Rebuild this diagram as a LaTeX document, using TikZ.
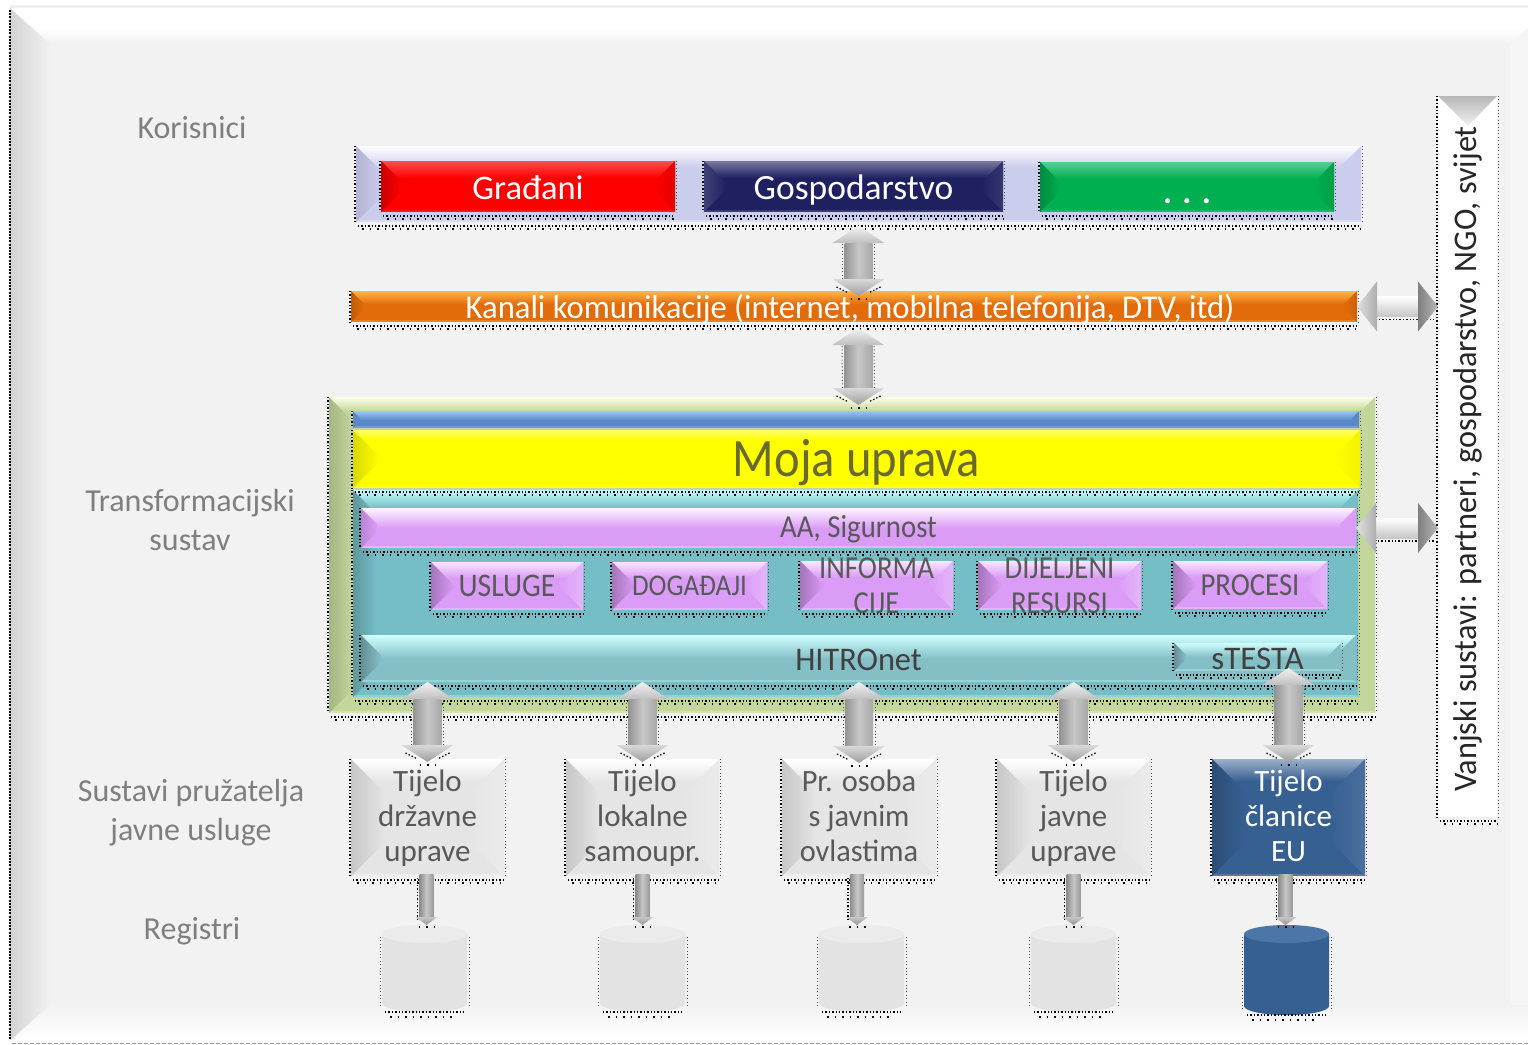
\documentclass[tikz,border=0pt]{standalone}
\usepackage{fontspec}
\setmainfont{Carlito}
\newfontfamily\cndfont[FakeStretch=0.9]{Carlito}
\newfontfamily\cnxfont[FakeStretch=0.98]{Carlito}
\usetikzlibrary{fit,calc,arrows.meta}
\definecolor{bgpanel}{HTML}{F2F2F2}
\definecolor{labgray}{HTML}{7F7F7F}
\definecolor{txtdark}{HTML}{595959}
\definecolor{cred}{HTML}{FF0000}
\definecolor{cnavy}{HTML}{1F2060}
\definecolor{cgreen}{HTML}{00B050}
\definecolor{corange}{HTML}{E36C0A}
\definecolor{ctoporange}{HTML}{FFB54D}
\definecolor{cgrn}{HTML}{C3D69B}
\definecolor{cpale}{HTML}{FFFFE8}
\definecolor{cteal}{HTML}{76BEC5}
\definecolor{cpalecy}{HTML}{BFFFFF}
\definecolor{cblue}{HTML}{5A8AC6}
\definecolor{ctopblue}{HTML}{9CC8F5}
\definecolor{cyel}{HTML}{FFFF00}
\definecolor{ctopyel}{HTML}{FFFF66}
\definecolor{colive}{HTML}{6A6A30}
\definecolor{cpink}{HTML}{DB9CF8}
\definecolor{chit}{HTML}{84BFC6}
\definecolor{chittop}{HTML}{CFFFFF}
\definecolor{cdblue}{HTML}{376092}
\definecolor{clav}{HTML}{CBCDEC}
\definecolor{clavd}{HTML}{B4B4D4}
\tikzset{
  x=1pt,y=-1pt,
  anchorbox/.style={inner sep=0pt,outer sep=0pt},
  dotline/.style={black,line width=1.3pt,dash pattern=on 1.4pt off 2pt},
  dotsparse/.style={black,line width=1.5pt,dash pattern=on 1.5pt off 6pt},
  dotlinelight/.style={black!70,line width=1pt,dash pattern=on 1pt off 2.4pt},
  boxtext/.style={align=center,inner sep=0pt,text=txtdark},
  sidelabel/.style={align=center,inner sep=0pt,text=labgray,font=\fontsize{32}{39}\selectfont},
}
\newcommand{\bevelset}[4]{\colorlet{bvbase}{#1}\colorlet{bvtop}{#2}\colorlet{bvleft}{#3}\colorlet{bvright}{#4}}
% name x1 y1 x2 y2 strip wedge textstyle text
\newcommand{\bevel}[9]{%
  \pgfmathsetmacro{\ins}{min(#7,(#5-#3)/2)}
  \fill[bvbase] (#2,#3) rectangle (#4,#5);
  \shade[top color=bvtop,bottom color=bvbase] (#2,#3) rectangle (#4,#3+#6);
  \fill[bvbase!70!bvtop] (#2,#5-2) rectangle (#4,#5);
  \shade[left color=bvleft,right color=bvbase] (#2,#3) -- (#2+#7,#3+\ins) -- (#2+#7,#5-\ins) -- (#2,#5) -- cycle;
  \shade[right color=bvright,left color=bvbase] (#4,#3) -- (#4-#7,#3+\ins) -- (#4-#7,#5-\ins) -- (#4,#5) -- cycle;
  \draw[dotline] (#2+2,#5+4) -- (#4,#5+4);
  \draw[dotsparse] (#2+6,#5+7) -- (#4,#5+7);
  \draw[dotline] (#2-1,#3) -- (#2-1,#5);
  \draw[dotlinelight] (#4+1,#3) -- (#4+1,#5);
  \coordinate (#1-a) at (#2,#3);
  \coordinate (#1-b) at (#4,#5);
  \node[anchorbox,fit=(#1-a)(#1-b)] (#1) {};
  \node[boxtext,#8] (#1-t) at (#1.center) {#9};
}
\newcommand{\cyl}[7]{%
  \pgfmathsetmacro{\cx}{(#2+#3)/2}
  \pgfmathsetmacro{\rx}{(#3-#2)/2}
  \fill[#6] (#2,#4+9) -- (#2,#5-9) arc[start angle=180,end angle=360,x radius=\rx,y radius=-9] -- (#3,#4+9) -- cycle;
  \fill[#7] (\cx,#4+9) ellipse[x radius=\rx,y radius=9];
  \draw[dotlinelight] (#2-2,#4+12) -- (#2-2,#5-6);
  \draw[dotlinelight] (#3+2,#4+12) -- (#3+2,#5-6);
  \draw[dotline] (#2+3,#5) -- (#3-3,#5);
  \draw[dotsparse] (#2+8,#5+5) -- (#3-10,#5+5);
  \coordinate (#1-a) at (#2,#4);
  \coordinate (#1-b) at (#3,#5);
  \node[anchorbox,fit=(#1-a)(#1-b)] (#1) {};
}
\newcommand{\bigpair}[2]{%
  \path let \p1=#1,\p2=#2 in coordinate (aA) at (\x1,\y1) coordinate (aB) at (\x2,\y2);
  \draw[dotlinelight] ($(aA)+(16,18)$) -- ($(aB)+(16,-16)$);
  \draw[dotlinelight] ($(aA)+(-16,18)$) -- ($(aB)+(-16,-16)$);
  \shade[left color=black!42,right color=black!34,middle color=black!22] ($(aA)+(-14,17)$) rectangle ($(aB)+(14,-17)$);
  \shade[top color=black!5,bottom color=black!25] (aA) -- ($(aA)+(26,17)$) -- ($(aA)+(-26,17)$) -- cycle;
  \shade[top color=black!15,bottom color=black!38] (aB) -- ($(aB)+(26,-17)$) -- ($(aB)+(-26,-17)$) -- cycle;
  \draw[dotline] ($(aB)+(-22,-9)$) -- ($(aB)+(-10,-3)$);
  \draw[dotline] ($(aB)+(22,-9)$) -- ($(aB)+(10,-3)$);
  \draw[dotsparse] ($(aB)+(-8,3)$) -- ($(aB)+(10,3)$);
}
\newcommand{\smallpair}[2]{%
  \path let \p1=#1,\p2=#2 in coordinate (aA) at (\x1,\y1) coordinate (aB) at (\x2,\y2);
  \draw[dotline] ($(aA)+(-9,2)$) -- ($(aB)+(-9,-6)$);
  \shade[left color=black!45,right color=black!40,middle color=black!22] ($(aA)+(-7,-2)$) rectangle ($(aB)+(7,-8)$);
  \shade[top color=black!22,bottom color=black!42] (aB) -- ($(aB)+(11,-8)$) -- ($(aB)+(-11,-8)$) -- cycle;
  \draw[dotsparse] ($(aB)+(-8,2)$) -- ($(aB)+(9,2)$);
}
\newcommand{\sidepair}[2]{%
  \path let \p1=#1,\p2=#2 in coordinate (aA) at (\x1,\y1) coordinate (aB) at (\x2,\y2);
  \draw[dotline] ($(aA)+(22,13)$) -- ($(aB)+(-4,13)$);
  \shade[top color=white,bottom color=black!22] ($(aA)+(20,-10)$) rectangle ($(aB)+(-20,10)$);
  \shade[left color=black!12,right color=black!32] (aA) -- ($(aA)+(20,-25)$) -- ($(aA)+(20,25)$) -- cycle;
  \shade[left color=black!50,right color=black!28] (aB) -- ($(aB)+(-20,-25)$) -- ($(aB)+(-20,25)$) -- cycle;
}
\begin{document}
\begin{tikzpicture}
\useasboundingbox (0,0) rectangle (1528,1044);
\fill[white] (0,0) rectangle (1528,1044);
% background panel
\fill[black!6] (10,5) rectangle (1528,8);
\fill[bgpanel] (10,8) rectangle (1528,1040);
\fill[black!4] (1510,44) -- (1528,26) -- (1528,1040) -- (1510,1040) -- cycle;
\fill[white] (10,8) rectangle (1528,28);
\shade[top color=white,bottom color=bgpanel] (10,28) -- (1528,28) -- (1510,44) -- (50,44) -- cycle;
\shade[top color=bgpanel,bottom color=white] (50,1005) -- (1528,1005) -- (1528,1040) -- (12,1040) -- cycle;
\shade[left color=black!17,right color=bgpanel] (10,8) -- (50,44) -- (50,1005) -- (10,1040) -- cycle;
\draw[black,line width=2.6pt,dash pattern=on 2pt off 1.2pt] (10,10) -- (10,1040);
\draw[black!40,line width=1pt,dash pattern=on 4pt off 2pt] (12,1043) -- (1528,1043);
% side labels
\node[sidelabel] (lkor) at (192,128) {Korisnici};
\node[sidelabel] (ltra) at (190,520) {Transformacijski\\sustav};
\node[sidelabel,yshift=-1.5pt] (lsus) at (191,811) {Sustavi pružatelja\\javne usluge};
\node[sidelabel] (lreg) at (192,931) {Registri};
% users
\bevelset{clav}{white}{clavd}{clav}
\bevel{users}{356}{146}{1361}{222}{22}{26}{}{}
\bevelset{cred}{cred!70!white}{cred!80!black}{cred!90!black}
\bevel{grad}{381}{161}{675}{212}{17}{22}{text=white,yshift=-1pt,font=\fontsize{34.5}{40}\selectfont}{Građani}
\bevelset{cnavy}{cnavy!60!white}{cnavy!85!white}{cnavy!90!white}
\bevel{gosp}{704}{161}{1003}{212}{17}{22}{text=white,yshift=-4pt,font=\fontsize{35.5}{40}\selectfont}{Gospodarstvo}
\bevelset{cgreen}{cgreen!65!white}{cgreen!80!black}{cgreen!90!black}
\bevel{dots}{1040}{162}{1334}{212}{17}{22}{text=white,yshift=-14pt,font=\fontsize{34}{46}\selectfont\bfseries}{. . .}
% channels
\bevelset{corange}{ctoporange}{corange!85!black}{corange!90!black}
\bevel{kan}{351}{291}{1357}{322}{13}{14}{text=white,yshift=-3pt,xshift=-4pt,font=\cnxfont\fontsize{33.3}{40}\selectfont}{Kanali komunikacije (internet, mobilna telefonija, DTV, itd)}
% transformation system
\bevelset{cgrn}{cpale}{cgrn!85!black}{cgrn}
\bevel{trans}{329}{397}{1375}{713}{14}{24}{}{}
\bevelset{cteal}{cpalecy}{cteal!80!black}{cteal}
\bevel{inner}{353}{490}{1358}{697}{18}{24}{}{}
\bevelset{cblue}{ctopblue}{cblue}{cblue}
\bevel{bar}{353}{411}{1359}{428}{9}{7}{}{}
\bevelset{cyel}{ctopyel}{cyel!85!black}{cyel!95!black}
\bevel{moja}{353}{430}{1360}{488}{10}{26}{text=colive,yshift=-4pt,font=\cndfont\fontsize{54}{60}\selectfont}{Moja uprava}
\bevelset{cpink}{white!90!cpink}{cpink!85!black}{cpink}
\bevel{aa}{361}{508}{1356}{548}{20}{16}{yshift=-1pt,font=\cndfont\fontsize{32}{38}\selectfont}{AA, Sigurnost}
\bevelset{cpink}{white!75!cpink}{cpink!75!black}{white!25!cpink}
\bevel{usl}{431}{562}{583}{610}{16}{24}{font=\cndfont\fontsize{33}{38}\selectfont}{USLUGE}
\bevel{dog}{612}{562}{767}{610}{16}{24}{font=\cndfont\fontsize{30}{38}\selectfont}{DOGAĐAJI}
\bevel{inf}{800}{561}{953}{610}{16}{24}{font=\cndfont\fontsize{32}{35}\selectfont}{INFORMA\\CIJE}
\bevel{dij}{978}{561}{1141}{610}{16}{24}{font=\cndfont\fontsize{32}{35}\selectfont}{DIJELJENI\\RESURSI}
\bevel{pro}{1173}{561}{1327}{609}{16}{24}{font=\cndfont\fontsize{32}{38}\selectfont}{PROCESI}
\bevelset{chit}{chittop}{chit!75!black}{chit}
\bevel{hit}{361}{635}{1356}{682}{24}{20}{text=black!75,yshift=-1pt,font=\cnxfont\fontsize{33}{38}\selectfont}{HITROnet}
\bevel{ste}{1174}{643}{1341}{671}{14}{12}{text=black!75,yshift=-2pt,font=\fontsize{33}{38}\selectfont}{sTESTA}
% external systems
\bevelset{white}{white}{white}{white}
\bevel{ext}{1438}{96}{1497}{817}{0}{1}{}{}
\shade[top color=black!28,bottom color=black!6] (1438,96) -- (1497,96) -- (1468,126) -- cycle;
\node[inner sep=0pt,rotate=90,text=black!85,font=\cnxfont\fontsize{33}{38}\selectfont] (ext-t2) at (1468,459) {Vanjski sustavi: partneri, gospodarstvo, NGO, svijet};
% providers
\bevelset{black!10}{white}{black!22}{black!8}
\bevel{b1}{351}{759}{504}{876}{22}{34}{yshift=-1pt,font=\fontsize{31}{35}\selectfont}{Tijelo\\državne\\uprave}
\bevel{b2}{566}{759}{719}{876}{22}{34}{yshift=-1pt,font=\fontsize{31}{35}\selectfont}{Tijelo\\lokalne\\samoupr.}
\bevel{b3}{782}{759}{936}{876}{22}{34}{yshift=2pt,font=\cnxfont\fontsize{31}{35}\selectfont}{Pr. osoba\\s javnim\\ovlastima}
\bevel{b4}{997}{759}{1150}{876}{22}{34}{yshift=-1pt,font=\fontsize{31}{35}\selectfont}{Tijelo\\javne\\uprave}
\bevelset{cdblue}{cdblue!50!white}{cdblue!80!black}{cdblue!90!white}
\bevel{b5}{1212}{759}{1365}{876}{22}{34}{text=white,yshift=2pt,font=\fontsize{31}{35}\selectfont}{Tijelo\\članice\\EU}
% registers
\cyl{c1}{382}{467}{925}{1012}{black!11}{black!8}
\cyl{c2}{600}{685}{925}{1012}{black!11}{black!8}
\cyl{c3}{819}{904}{925}{1012}{black!11}{black!8}
\cyl{c4}{1031}{1116}{925}{1012}{black!11}{black!8}
\cyl{c5}{1244}{1329}{925}{1015}{cdblue}{cblue!85!black}
% connectors
\bigpair{([yshift=-4pt]users.south)}{([yshift=-5pt]kan.north -| users.south)}
\bigpair{([xshift=4pt,yshift=-6pt]kan.south)}{([yshift=-8pt]trans.north -| users.south)}
\bigpair{(hit.south -| b1.north)}{([yshift=-3pt]b1.north)}
\bigpair{(hit.south -| b2.north)}{([yshift=-3pt]b2.north)}
\bigpair{(hit.south -| b3.north)}{([yshift=-4pt]b3.north)}
\bigpair{(hit.south -| b4.north)}{([yshift=-3pt]b4.north)}
\bigpair{([yshift=3pt]ste.south -| b5.north)}{([yshift=-3pt]b5.north)}
\smallpair{([xshift=-1pt]b1.south)}{([xshift=-1pt]b1.south |- c1.north)}
\smallpair{(b2.south)}{(b2.south |- c2.north)}
\smallpair{([xshift=-2pt]b3.south)}{([xshift=-2pt]b3.south |- c3.north)}
\smallpair{(b4.south)}{(b4.south |- c4.north)}
\smallpair{([xshift=-3pt]b5.south)}{([xshift=-3pt]b5.south |- c5.north)}
\sidepair{(kan.east)}{(kan.east -| ext.west)}
\sidepair{(aa.east)}{(aa.east -| ext.west)}
\end{tikzpicture}
\end{document}
